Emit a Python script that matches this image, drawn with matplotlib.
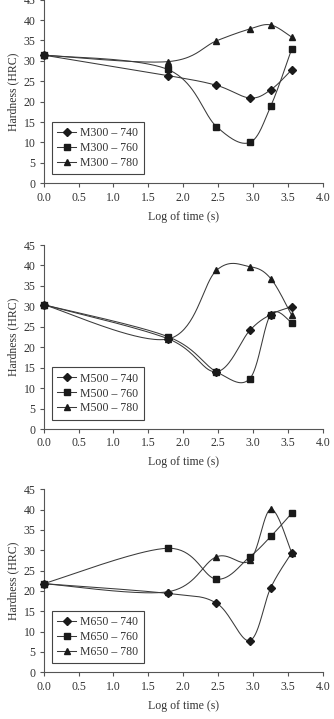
import numpy as np
import matplotlib
matplotlib.use("Agg")
import matplotlib.pyplot as plt

plt.rcParams['font.family'] = ['Liberation Serif', 'DejaVu Serif']

log_time = [0.0, 1.778, 2.477, 2.954, 3.255, 3.556]

m300_740 = [31.4, 26.4, 24.0, 20.9, 22.9, 27.8]
m300_760 = [31.4, 27.9, 13.9, 10.0, 18.9, 32.9]
m300_780 = [31.4, 29.8, 34.9, 37.8, 38.8, 35.8]

m500_740 = [30.4, 22.1, 14.0, 24.1, 28.0, 29.9]
m500_760 = [30.4, 22.6, 14.0, 12.3, 28.0, 26.0]
m500_780 = [30.4, 22.0, 38.8, 39.7, 36.8, 27.8]

m650_740 = [21.8, 19.4, 17.0, 7.8, 20.8, 29.4]
m650_760 = [21.8, 30.5, 22.9, 28.4, 33.4, 39.1]
m650_780 = [21.8, 19.8, 28.4, 27.5, 40.1, 29.4]

panels = [
    ("M300", [m300_740, m300_760, m300_780]),
    ("M500", [m500_740, m500_760, m500_780]),
    ("M650", [m650_740, m650_760, m650_780]),
]
temps = ["740", "760", "780"]
markers = ["D", "s", "^"]
msizes = [3.8, 4.6, 4.8]

x_ticks = [0.0, 0.5, 1.0, 1.5, 2.0, 2.5, 3.0, 3.5, 4.0]
y_ticks = [0, 5, 10, 15, 20, 25, 30, 35, 40, 45]

W, H = 334, 719
fig = plt.figure(figsize=(W / 100, H / 100), dpi=100)

boxes = [
    (43.7, 183.3, 183.7),
    (43.7, 429.0, 184.0),
    (43.7, 672.3, 183.0),
]

line_col = "#3a3a3a"
axis_col = "#555555"
text_col = "#333333"
fs = 8.5


def smooth_curve(ax, xs, ys):
    pts = ax.transData.transform(np.column_stack([xs, ys]))
    n = len(pts)
    t = np.linspace(0, 1, 40)
    out = []
    for i in range(n - 1):
        p0 = pts[i - 1] if i > 0 else pts[i]
        p1 = pts[i]
        p2 = pts[i + 1]
        p3 = pts[i + 2] if i + 2 < n else pts[i + 1]
        c1 = p1 + (p2 - p0) / 6.0
        c2 = p2 - (p3 - p1) / 6.0
        seg = ((1 - t) ** 3)[:, None] * p1 + (3 * (1 - t) ** 2 * t)[:, None] * c1 \
            + (3 * (1 - t) * t ** 2)[:, None] * c2 + (t ** 3)[:, None] * p2
        out.append(seg)
    out = np.vstack(out)
    return ax.transData.inverted().transform(out)


for (left, base, height), (name, series) in zip(boxes, panels):
    ax = fig.add_axes([left / W, (H - base) / H, 279.0 / W, height / H])
    ax.set_xlim(0, 4.0)
    ax.set_ylim(0, 45)
    for s in ["top", "right"]:
        ax.spines[s].set_visible(False)
    for s in ["left", "bottom"]:
        ax.spines[s].set_color(axis_col)
        ax.spines[s].set_linewidth(0.8)
    ax.set_xticks(x_ticks)
    ax.set_xticklabels([f"{v:.1f}" for v in x_ticks])
    ax.set_yticks(y_ticks)
    ax.tick_params(direction="out", length=3, width=0.8, color=axis_col,
                   labelsize=fs, labelcolor=text_col, pad=3)
    ax.set_xlabel("Log of time (s)", fontsize=fs, color=text_col, labelpad=5)
    ax.set_ylabel("Hardness (HRC)", fontsize=fs, color=text_col, labelpad=3)

    fig.canvas.draw()
    handles = []
    for vals, t, m, ms in zip(series, temps, markers, msizes):
        sm = smooth_curve(ax, log_time, vals)
        ax.plot(sm[:, 0], sm[:, 1], color=line_col, lw=0.75, clip_on=False)
        ax.plot(log_time, vals, linestyle="none", marker=m, markersize=ms,
                color="#1a1a1a", clip_on=False, zorder=3)
        h, = ax.plot([], [], color=line_col, lw=0.75, marker=m, markersize=ms,
                     markerfacecolor="#1a1a1a", markeredgecolor="#1a1a1a",
                     label=f"{name} – {t}")
        handles.append(h)
    leg = ax.legend(handles=handles, loc="lower left",
                    bbox_to_anchor=(0.03, 0.05), fontsize=fs,
                    frameon=True, fancybox=False, framealpha=1,
                    edgecolor="#444444", handlelength=1.6, handletextpad=0.35,
                    borderpad=0.45, labelspacing=0.25, borderaxespad=0)
    leg.get_frame().set_linewidth(0.8)
    for txt in leg.get_texts():
        txt.set_color(text_col)

fig.savefig("out.png", dpi=100)
